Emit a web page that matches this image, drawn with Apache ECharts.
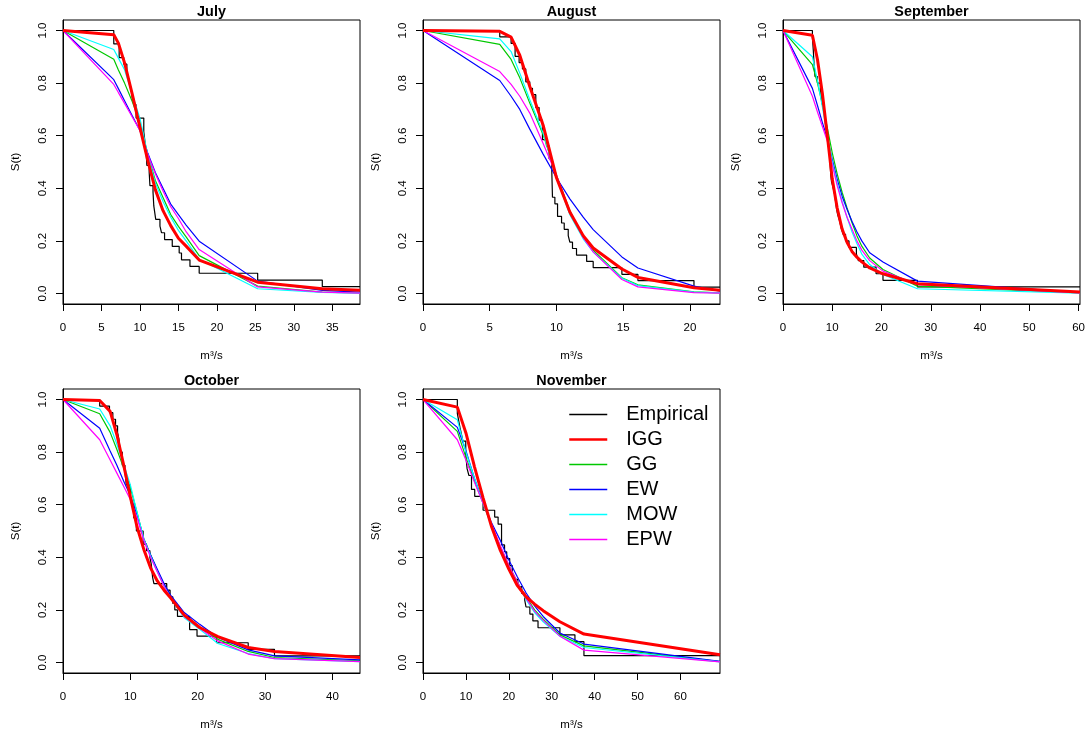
<!DOCTYPE html>
<html>
<head>
<meta charset="utf-8">
<title>S(t) fits by month</title>
<script src="https://cdn.jsdelivr.net/npm/echarts@6/dist/echarts.min.js"></script>
<style>
  html, body { margin: 0; padding: 0; background: #fff; }
  #main { width: 1090px; height: 733px; }
</style>
</head>
<body>
<div id="main"></div>
<script>
// ---------- data ----------
var months = ['July', 'August', 'September', 'October', 'November'];
var xMax = [38.6, 22.25, 60.3, 44.1, 69.2];
var xTicks = [
  [0, 5, 10, 15, 20, 25, 30, 35],
  [0, 5, 10, 15, 20],
  [0, 10, 20, 30, 40, 50, 60],
  [0, 10, 20, 30, 40],
  [0, 10, 20, 30, 40, 50, 60]
];
var yTicks = [0, 0.2, 0.4, 0.6, 0.8, 1.0];
var modelNames = ['Empirical', 'IGG', 'GG', 'EW', 'MOW', 'EPW'];

// July
var julyEmpX = [0, 6.6, 7.3, 7.9, 8.3, 8.5, 8.7, 8.9, 9.0, 9.2, 9.5, 10.5, 10.6, 10.7, 10.8, 10.85, 10.9, 11.2, 11.3, 11.7,
  11.8, 12.05, 12.6, 12.8, 13.2, 14.2, 15.1, 15.4, 16.5, 17.7, 25.3, 33.7, 38.6];
var julyEmpS = [1, 0.949, 0.897, 0.872, 0.846, 0.821, 0.795, 0.769, 0.744, 0.718, 0.667, 0.615, 0.59, 0.564, 0.538, 0.513, 0.487, 0.462, 0.41, 0.385,
  0.333, 0.282, 0.256, 0.231, 0.205, 0.179, 0.154, 0.128, 0.103, 0.077, 0.051, 0.026, 0.026];
var julyFitX = [0, 6.6, 7.2, 8, 9, 10, 11, 12, 13, 14, 15, 16, 17.7, 25.3, 33.7, 38.6];
var julyIGG = [1, 0.984, 0.952, 0.877, 0.758, 0.632, 0.508, 0.395, 0.315, 0.258, 0.21, 0.18, 0.127, 0.043, 0.018, 0.012];
var julyGG  = [1, 0.891, 0.85, 0.80, 0.73, 0.65, 0.532, 0.43, 0.365, 0.30, 0.255, 0.215, 0.144, 0.028, 0.005, 0.002];
var julyEW  = [1, 0.813, 0.779, 0.733, 0.676, 0.62, 0.535, 0.46, 0.40, 0.34, 0.30, 0.26, 0.199, 0.047, 0.012, 0.005];
var julyMOW = [1, 0.928, 0.895, 0.851, 0.758, 0.666, 0.53, 0.42, 0.35, 0.29, 0.24, 0.20, 0.13, 0.018, 0.004, 0.001];
var julyEPW = [1, 0.795, 0.764, 0.723, 0.671, 0.62, 0.53, 0.455, 0.39, 0.33, 0.285, 0.235, 0.167, 0.025, 0.005, 0.001];

// August
var augEmpX = [0, 5.75, 6.6, 6.9, 7.2, 7.45, 7.7, 8.0, 8.2, 8.45, 8.7, 8.95, 9.25, 9.45, 9.65, 9.7, 9.88, 10.08, 10.38, 10.58,
  10.88, 11.0, 11.2, 11.5, 12.26, 12.75, 14.9, 16.1, 20.3, 22.25];
var augEmpS = [1, 0.976, 0.951, 0.902, 0.878, 0.854, 0.805, 0.780, 0.756, 0.707, 0.659, 0.585, 0.561, 0.512, 0.463, 0.366, 0.341, 0.293, 0.268, 0.244,
  0.220, 0.195, 0.171, 0.146, 0.122, 0.098, 0.073, 0.049, 0.024, 0.024];
var augFitX = [0, 5.75, 6.6, 7.25, 8, 9, 10, 11, 12, 12.75, 14.9, 16.1, 20.3, 22.25];
var augIGG = [1, 0.997, 0.975, 0.906, 0.787, 0.64, 0.44, 0.31, 0.22, 0.173, 0.093, 0.061, 0.022, 0.012];
var augGG  = [1, 0.947, 0.89, 0.82, 0.724, 0.604, 0.45, 0.315, 0.215, 0.165, 0.06, 0.033, 0.006, 0.002];
var augEW  = [1, 0.81, 0.75, 0.70, 0.625, 0.53, 0.44, 0.36, 0.29, 0.243, 0.139, 0.097, 0.028, 0.009];
var augMOW = [1, 0.968, 0.92, 0.838, 0.737, 0.61, 0.44, 0.30, 0.208, 0.158, 0.058, 0.03, 0.005, 0.002];
var augEPW = [1, 0.844, 0.795, 0.75, 0.686, 0.57, 0.45, 0.31, 0.212, 0.158, 0.053, 0.025, 0.003, 0.001];

// September
var sepEmpX = [0, 5.97, 6.15, 6.3, 6.5, 7.0, 7.6, 7.9, 8.3, 8.6, 9.0, 9.4, 9.7, 9.85, 10.2, 10.5, 10.85, 11.1, 11.5, 11.8,
  12.2, 12.7, 13.4, 14.9, 15.3, 16.4, 18.9, 20.3, 27.3, 60.3];
var sepEmpS = [1, 0.975, 0.925, 0.875, 0.825, 0.8, 0.775, 0.725, 0.7, 0.65, 0.6, 0.55, 0.45, 0.425, 0.4, 0.375, 0.325, 0.3, 0.275, 0.25,
  0.225, 0.2, 0.175, 0.15, 0.125, 0.1, 0.075, 0.05, 0.025, 0.025];
var sepFitX = [0, 5.97, 7, 8, 9, 10, 11, 12, 13, 14, 15, 16, 17.6, 20.3, 27.3, 60.3];
var sepIGG = [1, 0.982, 0.89, 0.76, 0.60, 0.435, 0.325, 0.245, 0.195, 0.16, 0.138, 0.12, 0.097, 0.075, 0.037, 0.006];
var sepGG  = [1, 0.87, 0.80, 0.72, 0.63, 0.535, 0.455, 0.385, 0.325, 0.27, 0.22, 0.18, 0.135, 0.091, 0.028, 0.002];
var sepEW  = [1, 0.78, 0.715, 0.65, 0.59, 0.51, 0.435, 0.37, 0.32, 0.275, 0.235, 0.20, 0.155, 0.12, 0.047, 0.003];
var sepMOW = [1, 0.90, 0.81, 0.71, 0.60, 0.50, 0.42, 0.35, 0.29, 0.235, 0.19, 0.15, 0.11, 0.072, 0.018, 0.001];
var sepEPW = [1, 0.75, 0.69, 0.635, 0.58, 0.49, 0.41, 0.345, 0.29, 0.245, 0.20, 0.165, 0.125, 0.085, 0.034, 0.002];

// October
var octEmpX = [0, 5.45, 6.9, 7.4, 7.8, 8.1, 8.3, 8.5, 8.8, 9.2, 9.4, 10.0, 10.2, 10.5, 10.9, 11.9, 12.4, 12.9, 13.1, 13.3,
  13.5, 15.4, 15.9, 16.3, 16.6, 17.0, 18.8, 19.9, 22.8, 27.5, 31.4, 44.1];
var octEmpS = [1, 0.975, 0.95, 0.925, 0.9, 0.875, 0.85, 0.8, 0.75, 0.725, 0.675, 0.625, 0.6, 0.55, 0.5, 0.45, 0.425, 0.4, 0.375, 0.325,
  0.3, 0.275, 0.25, 0.225, 0.2, 0.175, 0.125, 0.1, 0.075, 0.05, 0.025, 0.025];
var octFitX = [0, 5.45, 7, 8, 9, 10, 11, 12, 13, 14, 15, 16, 18, 20.3, 23, 27.5, 31.4, 44.1];
var octIGG = [1, 0.996, 0.955, 0.866, 0.752, 0.63, 0.515, 0.43, 0.36, 0.31, 0.275, 0.245, 0.18, 0.133, 0.098, 0.057, 0.042, 0.019];
var octGG  = [1, 0.946, 0.875, 0.81, 0.74, 0.665, 0.57, 0.47, 0.41, 0.35, 0.295, 0.25, 0.18, 0.135, 0.088, 0.042, 0.019, 0.006];
var octEW  = [1, 0.891, 0.804, 0.75, 0.69, 0.635, 0.56, 0.47, 0.41, 0.355, 0.30, 0.255, 0.19, 0.145, 0.095, 0.048, 0.025, 0.01];
var octMOW = [1, 0.964, 0.90, 0.83, 0.755, 0.675, 0.57, 0.47, 0.405, 0.345, 0.29, 0.245, 0.17, 0.126, 0.072, 0.034, 0.015, 0.003];
var octEPW = [1, 0.847, 0.77, 0.72, 0.67, 0.62, 0.55, 0.465, 0.40, 0.345, 0.29, 0.245, 0.175, 0.13, 0.082, 0.032, 0.015, 0.003];

// November
var novEmpX = [0, 8.0, 8.3, 8.6, 8.95, 9.3, 9.96, 10.27, 10.7, 11.3, 12.05, 14.0, 16.7, 17.5, 18.3, 19.0, 19.5, 20.2, 20.8, 21.2,
  22.1, 23.0, 23.7, 24.0, 24.9, 25.6, 26.8, 31.9, 35.4, 37.5, 69.2];
var novEmpS = [1, 0.947, 0.921, 0.895, 0.868, 0.842, 0.789, 0.737, 0.711, 0.658, 0.632, 0.579, 0.553, 0.526, 0.447, 0.421, 0.395, 0.368, 0.342, 0.316,
  0.289, 0.263, 0.237, 0.211, 0.184, 0.158, 0.132, 0.105, 0.079, 0.026, 0.026];
var novFitX = [0, 8, 10, 12, 14, 16, 18, 20, 22, 24, 26, 28, 31.9, 37.5, 69.2];
var novIGG = [1, 0.971, 0.873, 0.744, 0.626, 0.515, 0.427, 0.355, 0.292, 0.25, 0.222, 0.197, 0.155, 0.108, 0.029];
var novGG  = [1, 0.879, 0.78, 0.69, 0.605, 0.52, 0.44, 0.37, 0.305, 0.25, 0.20, 0.165, 0.105, 0.063, 0.003];
var novEW  = [1, 0.894, 0.805, 0.70, 0.61, 0.53, 0.465, 0.39, 0.325, 0.265, 0.215, 0.175, 0.112, 0.07, 0.004];
var novMOW = [1, 0.923, 0.80, 0.70, 0.605, 0.52, 0.44, 0.365, 0.30, 0.24, 0.19, 0.155, 0.10, 0.057, 0.002];
var novEPW = [1, 0.847, 0.77, 0.685, 0.605, 0.525, 0.445, 0.37, 0.305, 0.245, 0.195, 0.16, 0.10, 0.047, 0.002];

var panels = [
  { emp: [julyEmpX, julyEmpS], fitX: julyFitX, fits: { IGG: julyIGG, GG: julyGG, EW: julyEW, MOW: julyMOW, EPW: julyEPW } },
  { emp: [augEmpX, augEmpS], fitX: augFitX, fits: { IGG: augIGG, GG: augGG, EW: augEW, MOW: augMOW, EPW: augEPW } },
  { emp: [sepEmpX, sepEmpS], fitX: sepFitX, fits: { IGG: sepIGG, GG: sepGG, EW: sepEW, MOW: sepMOW, EPW: sepEPW } },
  { emp: [octEmpX, octEmpS], fitX: octFitX, fits: { IGG: octIGG, GG: octGG, EW: octEW, MOW: octMOW, EPW: octEPW } },
  { emp: [novEmpX, novEmpS], fitX: novFitX, fits: { IGG: novIGG, GG: novGG, EW: novEW, MOW: novMOW, EPW: novEPW } }
];

// ---------- styling / layout ----------
var FONT = 'Liberation Sans, Arial, Helvetica, sans-serif';
var colors = { Empirical: '#000000', IGG: '#ff0000', GG: '#00c800', EW: '#0000ff', MOW: '#00ffff', EPW: '#ff00ff' };
var widths = { Empirical: 1.2, IGG: 3, GG: 1.2, EW: 1.2, MOW: 1.2, EPW: 1.2 };
var drawOrder = ['GG', 'EW', 'MOW', 'EPW', 'IGG'];

var boxW = 297, boxH = 284;
var colLeft = [63, 423, 783];
var rowTop = [20, 389];

function pairs(xs, ys) {
  return xs.map(function (x, i) { return [x, ys[i]]; });
}

var grids = [], xAxes = [], yAxes = [], titles = [], series = [];

panels.forEach(function (p, i) {
  var left = colLeft[i % 3], top = rowTop[Math.floor(i / 3)];
  grids.push({ left: left, top: top, width: boxW, height: boxH, show: true,
    borderColor: '#000', borderWidth: 1, backgroundColor: 'transparent', containLabel: false });

  titles.push({ text: months[i], left: left + boxW / 2, top: top - 15, textAlign: 'center', padding: 0,
    textStyle: { fontFamily: FONT, fontSize: 14.4, fontWeight: 'bold', color: '#000' } });

  xAxes.push({
    type: 'value', gridIndex: i, min: 0, max: xMax[i],
    axisLine: { show: true, onZero: false, lineStyle: { color: '#000', width: 1 } },
    axisTick: { show: true, length: 7, customValues: xTicks[i], lineStyle: { color: '#000' } },
    axisLabel: { customValues: xTicks[i], margin: 18, fontFamily: FONT, fontSize: 11.5, color: '#000' },
    splitLine: { show: false },
    name: 'm³/s', nameLocation: 'middle', nameGap: 46,
    nameTextStyle: { fontFamily: FONT, fontSize: 11.5, color: '#000' }
  });

  yAxes.push({
    type: 'value', gridIndex: i, min: -0.04, max: 1.04,
    axisLine: { show: true, onZero: false, lineStyle: { color: '#000', width: 1 } },
    axisTick: { show: true, length: 7, customValues: yTicks, lineStyle: { color: '#000' } },
    axisLabel: { customValues: yTicks, rotate: 90, margin: 14, fontFamily: FONT, fontSize: 11.5, color: '#000',
      formatter: function (v) { return v.toFixed(1); } },
    splitLine: { show: false },
    name: 'S(t)', nameLocation: 'middle', nameGap: 41,
    nameTextStyle: { fontFamily: FONT, fontSize: 11.5, color: '#000' }
  });

  series.push({
    name: 'Empirical', type: 'line', step: 'end', xAxisIndex: i, yAxisIndex: i,
    data: pairs(p.emp[0], p.emp[1]), symbol: 'none',
    lineStyle: { color: colors.Empirical, width: widths.Empirical }, itemStyle: { color: colors.Empirical }
  });
  drawOrder.forEach(function (m) {
    series.push({
      name: m, type: 'line', xAxisIndex: i, yAxisIndex: i,
      data: pairs(p.fitX, p.fits[m]), symbol: 'none',
      lineStyle: { color: colors[m], width: widths[m] }, itemStyle: { color: colors[m] }
    });
  });
});

var chart = echarts.init(document.getElementById('main'), null, { renderer: 'canvas' });
chart.setOption({
  animation: false,
  backgroundColor: '#ffffff',
  title: titles,
  grid: grids,
  xAxis: xAxes,
  yAxis: yAxes,
  legend: {
    data: modelNames.map(function (n) {
      return { name: n, lineStyle: { color: colors[n], width: n === 'IGG' ? 2.5 : 1.6 } };
    }),
    orient: 'vertical', left: 568, top: 402, padding: 0,
    itemWidth: 38, itemHeight: 14, itemGap: 0,
    itemStyle: { color: 'transparent', borderColor: 'transparent', borderWidth: 0, opacity: 0 },
    textStyle: { fontFamily: FONT, fontSize: 20, color: '#000', lineHeight: 25, padding: [0, 0, 0, 14] }
  },
  series: series
});
window.addEventListener('resize', function () { chart.resize(); });
</script>
</body>
</html>
